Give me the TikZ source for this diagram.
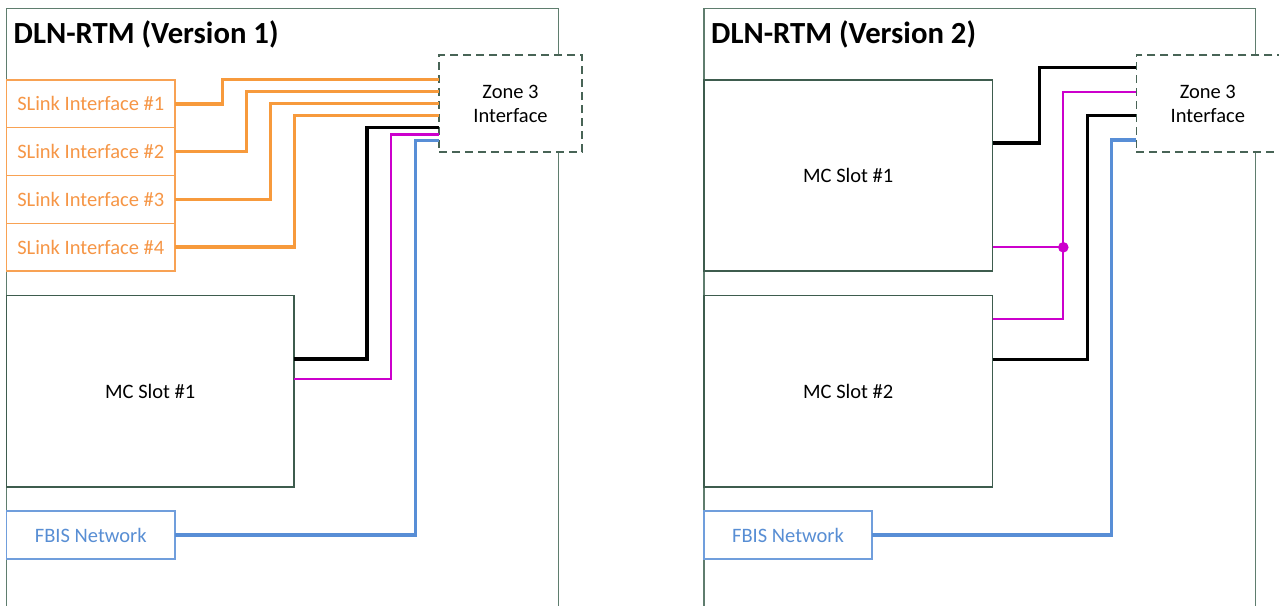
\documentclass[tikz,border=0pt]{standalone}
\usepackage{fontspec}
\setmainfont{Carlito}
\usetikzlibrary{calc}

\definecolor{framecol}{RGB}{95,125,110}
\definecolor{mccol}{RGB}{62,92,78}
\definecolor{zonecol}{RGB}{72,100,86}
\definecolor{orangewire}{RGB}{247,154,60}
\definecolor{orangeedge}{RGB}{248,162,84}
\definecolor{orangetext}{RGB}{246,150,70}
\definecolor{bluewire}{RGB}{88,142,214}
\definecolor{blueedge}{RGB}{112,158,220}
\definecolor{bluetext}{RGB}{88,142,212}
\definecolor{magentawire}{RGB}{204,0,204}

\tikzset{
  frameline/.style={draw=framecol, line width=1.2pt},
  title/.style={anchor=base west, inner sep=0pt, font=\fontsize{30.7}{35}\selectfont\bfseries},
  boxbase/.style={rectangle, inner sep=0pt, outer sep=0pt, fill=white, line width=1.1pt,
    font=\fontsize{20.5}{24}\selectfont, align=center},
  mcbox/.style={boxbase, draw=mccol, text=black},
  slinkbox/.style={boxbase, draw=orangeedge, text=orangetext, minimum width=168.5pt, minimum height=47.75pt},
  fbisbox/.style={boxbase, draw=blueedge, text=bluetext, minimum height=48pt},
  zonebox/.style={boxbase, draw=zonecol, line width=1.3pt, dash pattern=on 8pt off 5pt, text=black,
    minimum width=143pt, minimum height=97pt},
  owire/.style={draw=orangewire, line width=3.4pt},
  kwire/.style={draw=black, line width=3.4pt},
  mwire/.style={draw=magentawire, line width=2.3pt},
  bwire/.style={draw=bluewire, line width=3.4pt},
}

\begin{document}
\begin{tikzpicture}[x=1pt, y=-1pt]
\useasboundingbox (0,0) rectangle (1279,605);
\clip (0,0) rectangle (1279,605);

% ---------------- Version 1 ----------------
\draw[frameline] (6.5,610) |- (558.5,8.5) -- (558.5,610);
\node[title] (titleA) at (13.5,43.5) {DLN-RTM (Version 1)};

\node[zonebox] (zoneL) at (510.5,103.5) {Zone 3\\Interface};

\node[slinkbox] (sl1) at (90.75,103.875) {SLink Interface \#1};
\node[slinkbox] (sl2) at (90.75,151.625) {SLink Interface \#2};
\node[slinkbox] (sl3) at (90.75,199.375) {SLink Interface \#3};
\node[slinkbox] (sl4) at (90.75,247.125) {SLink Interface \#4};

\node[mcbox, minimum width=287.5pt, minimum height=191.5pt] (mcL) at (150.25,391.25) {MC Slot \#1};
\node[fbisbox, minimum width=168.5pt] (fbisL) at (90.75,535) {FBIS Network};

% attachment points on the left side of the zone 3 interface
\coordinate (zL1) at ($(zoneL.north west)+(0,24.3)$);
\coordinate (zL2) at ($(zoneL.north west)+(0,36.7)$);
\coordinate (zL3) at ($(zoneL.north west)+(0,48.3)$);
\coordinate (zL4) at ($(zoneL.north west)+(0,60.7)$);
\coordinate (zLk) at ($(zoneL.north west)+(0,72.3)$);
\coordinate (zLm) at ($(zoneL.north west)+(0,79.5)$);
\coordinate (zLb) at ($(zoneL.north west)+(0,85.5)$);

\draw[owire] (sl1.east) -- ++(47.7,0) |- (zL1);
\draw[owire] (sl2.east) -- ++(71.7,0) |- (zL2);
\draw[owire] (sl3.east) -- ++(95.7,0) |- (zL3);
\draw[owire] (sl4.east) -- ++(119.7,0) |- (zL4);
\draw[kwire] ($(mcL.north east)+(0,63.5)$) -- ++(73,0) |- (zLk);
\draw[mwire] ($(mcL.north east)+(0,83.5)$) -- ++(96.7,0) |- (zLm);
\draw[bwire] (fbisL.east) -- ++(240.3,0) |- (zLb);

% ---------------- Version 2 ----------------
\draw[frameline] (704,610) |- (1255.5,8.5) -- (1255.5,610);
\node[title] (titleB) at (711,43.5) {DLN-RTM (Version 2)};

\node[zonebox] (zoneR) at (1207.8,103.5) {Zone 3\\Interface};

\node[mcbox, minimum width=288.5pt, minimum height=191pt] (mcR1) at (848.25,175.5) {MC Slot \#1};
\node[mcbox, minimum width=288.5pt, minimum height=191.5pt] (mcR2) at (848.25,391.25) {MC Slot \#2};
\node[fbisbox, minimum width=168pt] (fbisR) at (788,535) {FBIS Network};

\coordinate (zRk1) at ($(zoneR.north west)+(0,12.3)$);
\coordinate (zRm)  at ($(zoneR.north west)+(0,36.7)$);
\coordinate (zRk2) at ($(zoneR.north west)+(0,60.5)$);
\coordinate (zRb)  at ($(zoneR.north west)+(0,85)$);
\coordinate (jn) at ($(mcR1.north east)+(70.8,167.3)$);

\draw[kwire] ($(mcR1.north east)+(0,63)$) -- ++(46.8,0) |- (zRk1);
\draw[mwire] ($(mcR2.north east)+(0,23.8)$) -- ++(70.8,0) |- (zRm);
\draw[mwire] ($(mcR1.north east)+(0,167.3)$) -- (jn);
\fill[magentawire] (jn) circle (5.3);
\draw[kwire] ($(mcR2.north east)+(0,63.8)$) -- ++(95.2,0) |- (zRk2);
\draw[bwire] (fbisR.east) -- ++(239.7,0) |- (zRb);
\end{tikzpicture}
\end{document}
